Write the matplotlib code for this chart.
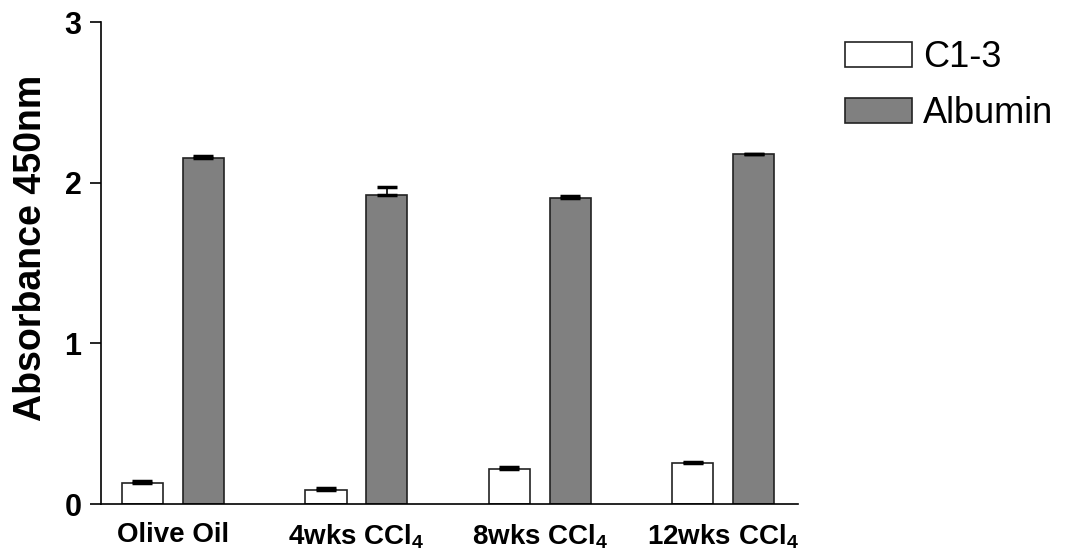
import numpy as np
import matplotlib
matplotlib.use('Agg')
import matplotlib.pyplot as plt

plt.rcParams['font.family'] = 'Liberation Sans'
plt.rcParams['mathtext.fontset'] = 'custom'
plt.rcParams['mathtext.rm'] = 'Liberation Sans:weight=normal'

# Dados
grupos = ['Olive Oil', r'4wks CCl$\mathregular{_4}$', r'8wks CCl$\mathregular{_4}$', r'12wks CCl$\mathregular{_4}$']
c13 = [0.133, 0.089, 0.220, 0.253]
c13_err = [0.010, 0.010, 0.010, 0.010]
albumin = [2.155, 1.925, 1.904, 2.178]
albumin_err = [0.012, 0.046, 0.012, 0.0]

x = np.arange(len(grupos))
largura = 0.224
desloc = 0.166

fig = plt.figure(figsize=(10.71, 5.53), dpi=100)
ax = fig.add_axes([0.0943, 0.0886, 0.6507, 0.8714])

ax.bar(x - desloc, c13, largura, color='white', edgecolor='#222222', linewidth=1.2,
       yerr=[np.zeros(4), c13_err], capsize=7, error_kw=dict(ecolor='black', elinewidth=1.2, capthick=2.5),
       label='C1-3')
ax.bar(x + desloc, albumin, largura, color='#808080', edgecolor='#222222', linewidth=1.2,
       yerr=[np.zeros(4), albumin_err], capsize=7, error_kw=dict(ecolor='black', elinewidth=1.2, capthick=2.5),
       label='Albumin')

ax.set_xlim(-0.392, 3.406)
ax.set_ylim(0, 3)
ax.set_yticks([0, 1, 2, 3])
ax.set_xticks(x)
ax.set_xticklabels(grupos, fontsize=20, fontweight='bold')
ax.tick_params(axis='x', length=0, pad=13)
ax.tick_params(axis='y', length=8, width=1.2, direction='out', labelsize=22, pad=6)
for lab in ax.get_yticklabels():
    lab.set_fontweight('bold')

ax.spines['top'].set_visible(False)
ax.spines['right'].set_visible(False)
ax.spines['left'].set_linewidth(1.2)
ax.spines['bottom'].set_linewidth(1.2)

ax.set_ylabel('Absorbance 450nm', fontsize=27, fontweight='bold')
ax.yaxis.set_label_coords(-0.075, 0.532)

leg = ax.legend(loc='upper left', bbox_to_anchor=(0.789, 0.928), bbox_transform=fig.transFigure,
                frameon=False, fontsize=26, handlelength=1.85, handleheight=0.7,
                handletextpad=0.3, labelspacing=0.6, borderpad=0, borderaxespad=0)

plt.savefig('out.png', dpi=100)
